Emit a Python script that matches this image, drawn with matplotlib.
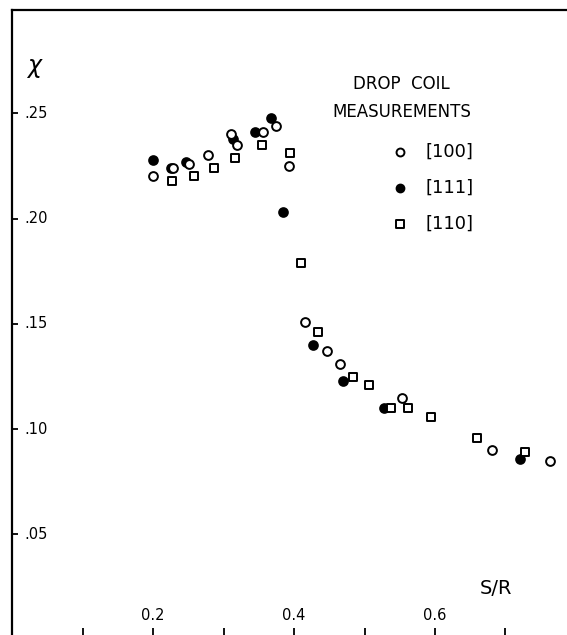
import numpy as np
import matplotlib
matplotlib.use('Agg')
import matplotlib.pyplot as plt

# drop coil susceptibility vs S/R, three crystal directions
sr_100 = [0.200, 0.229, 0.251, 0.278, 0.310, 0.319, 0.356, 0.374, 0.393,
          0.416, 0.447, 0.465, 0.553, 0.681, 0.763]
chi_100 = [0.220, 0.224, 0.226, 0.230, 0.240, 0.235, 0.241, 0.244, 0.225,
           0.151, 0.137, 0.131, 0.115, 0.090, 0.085]

sr_111 = [0.200, 0.225, 0.247, 0.314, 0.344, 0.367, 0.385, 0.427, 0.469,
          0.527, 0.721]
chi_111 = [0.228, 0.224, 0.227, 0.238, 0.241, 0.248, 0.203, 0.140, 0.123,
           0.110, 0.086]

sr_110 = [0.227, 0.258, 0.287, 0.317, 0.355, 0.395, 0.410, 0.434, 0.483,
          0.507, 0.538, 0.562, 0.595, 0.660, 0.728]
chi_110 = [0.218, 0.220, 0.224, 0.229, 0.235, 0.231, 0.179, 0.146, 0.125,
           0.121, 0.110, 0.110, 0.106, 0.096, 0.089]

xticks = [0.1, 0.2, 0.3, 0.4, 0.5, 0.6, 0.7]
xtick_labels = ['', '0.2', '', '0.4', '', '0.6', '']
yticks = [0.05, 0.10, 0.15, 0.20, 0.25]
ytick_labels = ['.05', '.10', '.15', '.20', '.25']

fig = plt.figure(figsize=(5.67, 6.35), dpi=100)
ax = fig.add_axes([12 / 567, -4.8 / 635, 564 / 567, 629.7 / 635])
ax.set_xlim(0, 0.8)
ax.set_ylim(0, 0.299)

ax.scatter(sr_111, chi_111, s=42, marker='o', facecolor='black',
           edgecolor='black', linewidth=1.2, zorder=3, label='[111]')
ax.scatter(sr_100, chi_100, s=40, marker='o', facecolor='white',
           edgecolor='black', linewidth=1.4, zorder=4, label='[100]')
ax.scatter(sr_110, chi_110, s=34, marker='s', facecolor='white',
           edgecolor='black', linewidth=1.4, zorder=5, label='[110]')

for side in ['right', 'bottom']:
    ax.spines[side].set_visible(False)
for side in ['left', 'top']:
    ax.spines[side].set_linewidth(1.6)

ax.set_xticks(xticks)
ax.set_yticks(yticks)
ax.tick_params(axis='x', direction='in', length=9, width=1.3,
               labelbottom=False)
ax.tick_params(axis='y', direction='in', length=4.5, width=1.3,
               labelleft=False)

# tick labels sit inside the frame
for v, lab in zip(xticks, xtick_labels):
    ax.text(v, 0.0078, lab, ha='center', va='bottom', fontsize=10.5)
for v, lab in zip(yticks, ytick_labels):
    ax.text(0.017, v, lab, ha='left', va='center', fontsize=10.5)

ax.text(0.033, 0.2715, r'$\chi$', ha='center', va='center', fontsize=17)
ax.text(0.686, 0.0245, 'S/R', ha='center', va='center', fontsize=14)

ax.text(0.5525, 0.2573, 'DROP  COIL\nMEASUREMENTS', ha='center',
        va='center', fontsize=12, linespacing=1.75)

h, l = ax.get_legend_handles_labels()
order = [1, 0, 2]
leg = ax.legend([h[i] for i in order], [l[i] for i in order],
                loc='upper left', bbox_to_anchor=(391 / 567, 1 - 143 / 635),
                bbox_transform=fig.transFigure, frameon=False,
                fontsize=13, handlelength=1.0, handletextpad=0.9,
                labelspacing=1.0, borderpad=0, borderaxespad=0,
                markerscale=0.9)

fig.savefig('out.png', dpi=100)
